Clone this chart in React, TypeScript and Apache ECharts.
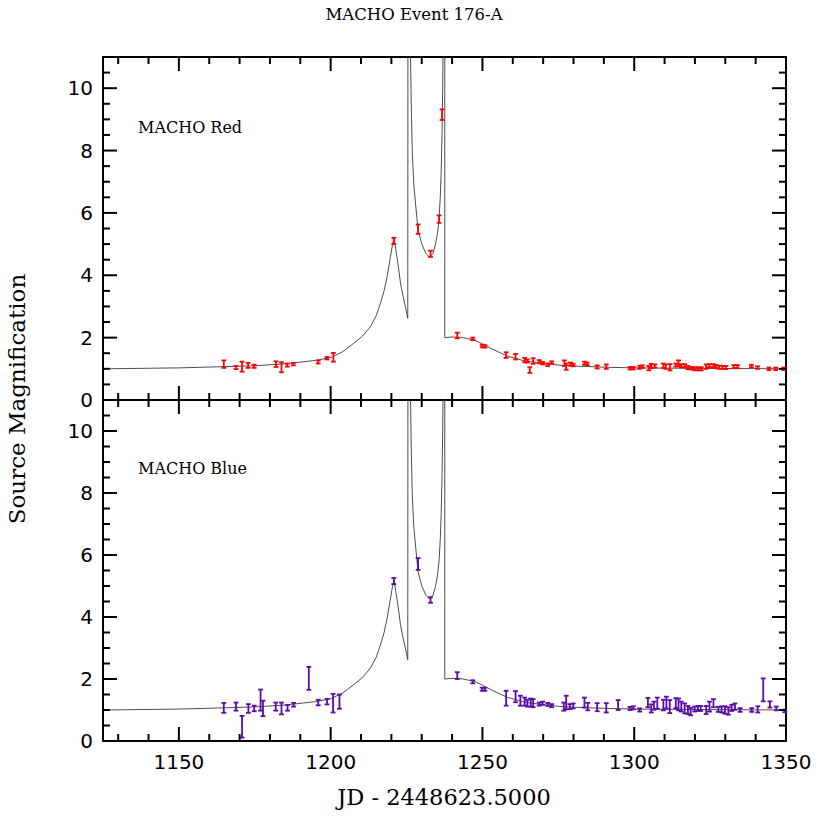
import React, { useEffect, useRef } from "react";
import * as echarts from "echarts";

// ---- data ----
const modelX = [1125, 1150, 1165, 1175, 1185, 1195, 1200, 1204, 1207.6, 1210.5, 1213.1, 1215, 1216.4, 1217.6, 1218.6, 1219.7, 1220.4, 1220.9, 1221.4, 1221.9, 1222.4, 1223, 1223.8, 1224.6, 1225.4, 1225.6, 1225.9, 1226.3, 1226.6, 1226.9, 1227.4, 1228, 1228.8, 1230.1, 1231.4, 1232.6, 1233.7, 1234.5, 1235.2, 1235.7, 1236.1, 1236.4, 1236.7, 1236.9, 1237.05, 1237.2, 1237.55, 1237.6, 1240, 1243, 1245, 1247.2, 1250, 1252.7, 1255.5, 1258.2, 1263.6, 1269.1, 1275, 1280.1, 1291.1, 1300, 1313, 1330, 1350];
const modelY = [1.0, 1.03, 1.07, 1.1, 1.16, 1.27, 1.36, 1.55, 1.82, 2.05, 2.35, 2.7, 3.1, 3.5, 3.96, 4.6, 5.0, 5.2, 4.85, 4.55, 4.2, 3.75, 3.35, 3.0, 2.62, 40, 40, 11.0, 9.2, 7.9, 6.9, 6.25, 5.45, 4.98, 4.7, 4.58, 4.7, 4.98, 5.35, 5.8, 6.5, 7.3, 8.6, 10.0, 11.5, 40, 40, 2.0, 2.02, 2.01, 1.97, 1.93, 1.8, 1.66, 1.53, 1.41, 1.26, 1.18, 1.12, 1.09, 1.05, 1.03, 1.02, 1.01, 1.0];

const redX = [1164.8, 1168.8, 1170.8, 1172.8, 1174.8, 1182.0, 1183.8, 1185.7, 1187.7, 1195.9, 1198.8, 1200.9, 1220.8, 1228.8, 1232.9, 1235.7, 1236.7, 1241.7, 1246.8, 1249.9, 1250.8, 1257.8, 1260.9, 1263.9, 1264.8, 1265.6, 1266.7, 1268.7, 1269.8, 1271.5, 1272.8, 1277.0, 1277.6, 1279.0, 1279.9, 1283.6, 1284.5, 1287.8, 1290.8, 1298.6, 1299.7, 1301.8, 1302.7, 1304.8, 1305.6, 1306.8, 1309.6, 1310.4, 1311.8, 1313.7, 1314.6, 1315.5, 1316.6, 1317.7, 1318.8, 1319.9, 1321.0, 1322.1, 1323.7, 1324.8, 1326.1, 1326.9, 1328.0, 1329.1, 1330.2, 1332.8, 1334.0, 1338.6, 1340.6, 1344.4, 1346.6, 1349.3];
const redY = [1.15, 1.04, 1.07, 1.11, 1.08, 1.15, 1.05, 1.12, 1.15, 1.22, 1.34, 1.37, 5.10, 5.48, 4.69, 5.80, 9.15, 2.07, 1.96, 1.73, 1.72, 1.44, 1.39, 1.28, 1.25, 0.96, 1.25, 1.23, 1.18, 1.13, 1.20, 1.18, 1.07, 1.15, 1.12, 1.18, 1.16, 1.06, 1.07, 1.02, 1.02, 1.05, 1.07, 1.02, 1.09, 1.09, 1.10, 1.07, 1.05, 1.12, 1.18, 1.10, 1.10, 1.04, 1.02, 1.00, 1.00, 1.00, 1.07, 1.10, 1.10, 1.07, 1.05, 1.05, 1.04, 1.07, 1.07, 1.09, 1.04, 1.00, 1.00, 1.00];
const redErr = [0.12, 0.05, 0.16, 0.08, 0.05, 0.09, 0.16, 0.05, 0.04, 0.05, 0.04, 0.14, 0.1, 0.15, 0.1, 0.12, 0.17, 0.09, 0.04, 0.04, 0.04, 0.09, 0.09, 0.07, 0.05, 0.09, 0.09, 0.05, 0.04, 0.04, 0.04, 0.09, 0.1, 0.05, 0.04, 0.05, 0.04, 0.05, 0.07, 0.04, 0.04, 0.05, 0.04, 0.07, 0.07, 0.05, 0.07, 0.07, 0.1, 0.05, 0.09, 0.05, 0.05, 0.05, 0.04, 0.05, 0.05, 0.05, 0.07, 0.05, 0.05, 0.05, 0.05, 0.05, 0.05, 0.05, 0.05, 0.04, 0.04, 0.04, 0.04, 0.04];

const blueX = [1164.8, 1168.8, 1170.8, 1172.9, 1174.8, 1176.9, 1177.7, 1181.9, 1183.8, 1185.8, 1187.8, 1192.8, 1195.9, 1198.8, 1200.8, 1202.9, 1220.8, 1228.8, 1232.9, 1241.7, 1246.8, 1249.9, 1250.8, 1257.8, 1260.9, 1262.5, 1263.9, 1264.8, 1265.9, 1266.7, 1268.7, 1269.8, 1271.5, 1272.8, 1276.8, 1277.6, 1278.8, 1279.9, 1283.6, 1284.7, 1287.8, 1290.8, 1294.7, 1298.6, 1299.7, 1301.8, 1304.5, 1305.6, 1306.5, 1307.6, 1309.6, 1310.6, 1311.7, 1313.7, 1314.6, 1315.5, 1316.6, 1317.7, 1318.6, 1319.9, 1321.0, 1321.9, 1323.7, 1324.8, 1326.1, 1327.7, 1328.8, 1329.9, 1331.0, 1332.1, 1333.2, 1334.9, 1338.7, 1340.7, 1342.5, 1344.7, 1346.8, 1349.6];
const blueY = [1.07, 1.11, 0.46, 1.05, 1.05, 1.32, 1.05, 1.11, 1.05, 1.07, 1.17, 2.02, 1.24, 1.27, 1.22, 1.27, 5.16, 5.71, 4.55, 2.11, 1.91, 1.67, 1.67, 1.38, 1.43, 1.30, 1.27, 1.22, 1.24, 1.22, 1.19, 1.22, 1.18, 1.14, 1.11, 1.24, 1.11, 1.13, 1.24, 1.11, 1.09, 1.07, 1.16, 1.05, 1.07, 1.00, 1.24, 1.05, 1.14, 1.22, 1.16, 1.24, 1.11, 1.22, 1.18, 1.11, 1.05, 1.00, 0.95, 1.03, 1.05, 1.05, 1.00, 1.11, 1.22, 1.02, 1.02, 1.00, 0.97, 1.07, 1.11, 1.00, 1.00, 1.02, 1.65, 1.18, 1.05, 0.97];
const blueErr = [0.16, 0.13, 0.35, 0.14, 0.09, 0.34, 0.25, 0.13, 0.19, 0.09, 0.06, 0.37, 0.09, 0.09, 0.30, 0.23, 0.1, 0.19, 0.09, 0.11, 0.05, 0.05, 0.05, 0.24, 0.18, 0.16, 0.13, 0.11, 0.13, 0.13, 0.05, 0.05, 0.05, 0.05, 0.13, 0.22, 0.08, 0.08, 0.16, 0.12, 0.13, 0.15, 0.16, 0.05, 0.05, 0.05, 0.15, 0.13, 0.13, 0.18, 0.17, 0.19, 0.21, 0.16, 0.19, 0.16, 0.16, 0.13, 0.12, 0.08, 0.08, 0.08, 0.13, 0.16, 0.13, 0.08, 0.10, 0.12, 0.12, 0.10, 0.10, 0.06, 0.06, 0.10, 0.37, 0.10, 0.06, 0.04];

const xMajorTicks = [1150, 1200, 1250, 1300, 1350];
const xMinorTicks = [1130, 1140, 1160, 1170, 1180, 1190, 1210, 1220, 1230, 1240, 1260, 1270, 1280, 1290, 1310, 1320, 1330, 1340];
const yMajorTicks = [0, 2, 4, 6, 8, 10];
const yMinorTicks = [0.5, 1, 1.5, 2.5, 3, 3.5, 4.5, 5, 5.5, 6.5, 7, 7.5, 8.5, 9, 9.5, 10.5];

const X_MIN = 1125;
const X_MAX = 1350;
const Y_MIN = 0;
const Y_MAX = 11;

const titleText = "MACHO Event 176-A";
const xName = "JD - 2448623.5000";
const yName = "Source Magnification";
const panelNames = ["MACHO Red", "MACHO Blue"];
const panelColors = ["#ff0000", "#5a0caa"];

const SERIF = '"DejaVu Serif", "Liberation Serif", serif';
const SANS = '"DejaVu Sans", "Liberation Sans", sans-serif';

export default function App() {
  const ref = useRef<HTMLDivElement>(null);

  useEffect(() => {
    if (!ref.current) return;
    const chart = echarts.init(ref.current, undefined, { renderer: "svg" });

    const grids = [
      { left: 103, top: 57, width: 683, height: 343 },
      { left: 103, top: 400, width: 683, height: 341 },
    ];

    const axisLine = { show: true, onZero: false, lineStyle: { color: "#000", width: 2 } };
    const fmt = (v: number) => String(v);

    const xAxes: any[] = [];
    const yAxes: any[] = [];
    grids.forEach((_, i) => {
      xAxes.push({
        gridIndex: i, type: "value", min: X_MIN, max: X_MAX, position: "bottom",
        axisLine, axisTick: { show: false }, splitLine: { show: false },
        axisLabel: i === 1
          ? { show: true, customValues: xMajorTicks, formatter: fmt, color: "#000", fontFamily: SANS, fontSize: 20, margin: 11 }
          : { show: false },
      });
      xAxes.push({
        gridIndex: i, type: "value", min: X_MIN, max: X_MAX, position: "top",
        axisLine, axisTick: { show: false }, splitLine: { show: false }, axisLabel: { show: false },
      });
      yAxes.push({
        gridIndex: i, type: "value", min: Y_MIN, max: Y_MAX, position: "left",
        axisLine, axisTick: { show: false }, splitLine: { show: false },
        axisLabel: { show: true, customValues: yMajorTicks, formatter: fmt, color: "#000", fontFamily: SANS, fontSize: 20, margin: 10 },
      });
      yAxes.push({
        gridIndex: i, type: "value", min: Y_MIN, max: Y_MAX, position: "right",
        axisLine, axisTick: { show: false }, splitLine: { show: false }, axisLabel: { show: false },
      });
    });

    const tickData = [
      ...xMajorTicks.map((v) => [v, Y_MIN, 0, 14]),
      ...xMinorTicks.map((v) => [v, Y_MIN, 0, 7]),
      ...yMajorTicks.map((v) => [X_MIN, v, 1, 14]),
      ...yMinorTicks.map((v) => [X_MIN, v, 1, 7]),
    ];

    const tickRender = (params: any, api: any) => {
      const kind = api.value(2);
      const len = api.value(3);
      const st = { stroke: "#000", lineWidth: 2 };
      if (kind === 0) {
        const v = api.value(0);
        const b = api.coord([v, Y_MIN]);
        const t = api.coord([v, Y_MAX]);
        return {
          type: "group",
          children: [
            { type: "line", shape: { x1: b[0], y1: b[1], x2: b[0], y2: b[1] - len }, style: st },
            { type: "line", shape: { x1: t[0], y1: t[1], x2: t[0], y2: t[1] + len }, style: st },
          ],
        };
      }
      const v = api.value(1);
      const l = api.coord([X_MIN, v]);
      const r = api.coord([X_MAX, v]);
      return {
        type: "group",
        children: [
          { type: "line", shape: { x1: l[0], y1: l[1], x2: l[0] + len, y2: l[1] }, style: st },
          { type: "line", shape: { x1: r[0], y1: r[1], x2: r[0] - len, y2: r[1] }, style: st },
        ],
      };
    };

    const errRender = (color: string) => (params: any, api: any) => {
      const x = api.value(0);
      const y = api.value(1);
      const e = api.value(2);
      const lo = api.coord([x, y - e]);
      const hi = api.coord([x, y + e]);
      const c = 2.4;
      const st = { stroke: color, lineWidth: 1.8 };
      return {
        type: "group",
        children: [
          { type: "line", shape: { x1: lo[0], y1: lo[1], x2: hi[0], y2: hi[1] }, style: st },
          { type: "line", shape: { x1: lo[0] - c, y1: lo[1], x2: lo[0] + c, y2: lo[1] }, style: st },
          { type: "line", shape: { x1: hi[0] - c, y1: hi[1], x2: hi[0] + c, y2: hi[1] }, style: st },
        ],
      };
    };

    const modelData = modelX.map((x, i) => [x, modelY[i]]);
    const pts = [
      redX.map((x, i) => [x, redY[i], redErr[i]]),
      blueX.map((x, i) => [x, blueY[i], blueErr[i]]),
    ];

    const series: any[] = [];
    grids.forEach((_, i) => {
      series.push({
        type: "line", xAxisIndex: i * 2, yAxisIndex: i * 2, data: modelData,
        showSymbol: false, symbol: "none", clip: true, silent: true,
        lineStyle: { color: "#3a3a3a", width: 0.9 }, z: 2,
      });
      series.push({
        type: "custom", xAxisIndex: i * 2, yAxisIndex: i * 2, data: pts[i],
        renderItem: errRender(panelColors[i]), silent: true, z: 3,
      });
      series.push({
        type: "custom", xAxisIndex: i * 2, yAxisIndex: i * 2, data: tickData,
        renderItem: tickRender, silent: true, z: 4,
      });
    });

    const textStyle = (text: string, size: number, family: string, weight = "normal") => ({
      text, fill: "#000", font: `${weight} ${size}px ${family}`,
      align: "center", verticalAlign: "middle", textAlign: "center", textVerticalAlign: "middle",
    });

    chart.setOption({
      animation: false,
      backgroundColor: "#fff",
      grid: grids,
      xAxis: xAxes,
      yAxis: yAxes,
      series,
      graphic: [
        { type: "text", x: 414, y: 14, style: textStyle(titleText, 16.5, SERIF) },
        { type: "text", x: 444, y: 797, style: textStyle(xName, 22.5, SERIF) },
        { type: "text", x: 17, y: 399, rotation: Math.PI / 2, style: textStyle(yName, 23, SERIF) },
        {
          type: "text", x: 138, y: 127.5,
          style: { text: panelNames[0], fill: "#000", font: `16px ${SERIF}`, align: "left", verticalAlign: "middle", textAlign: "left", textVerticalAlign: "middle" },
        },
        {
          type: "text", x: 138, y: 468,
          style: { text: panelNames[1], fill: "#000", font: `16px ${SERIF}`, align: "left", verticalAlign: "middle", textAlign: "left", textVerticalAlign: "middle" },
        },
      ],
    });

    return () => chart.dispose();
  }, []);

  return (
    <div
      ref={ref}
      style={{ position: "absolute", left: 0, top: 0, width: 830, height: 830, background: "#fff" }}
    />
  );
}
